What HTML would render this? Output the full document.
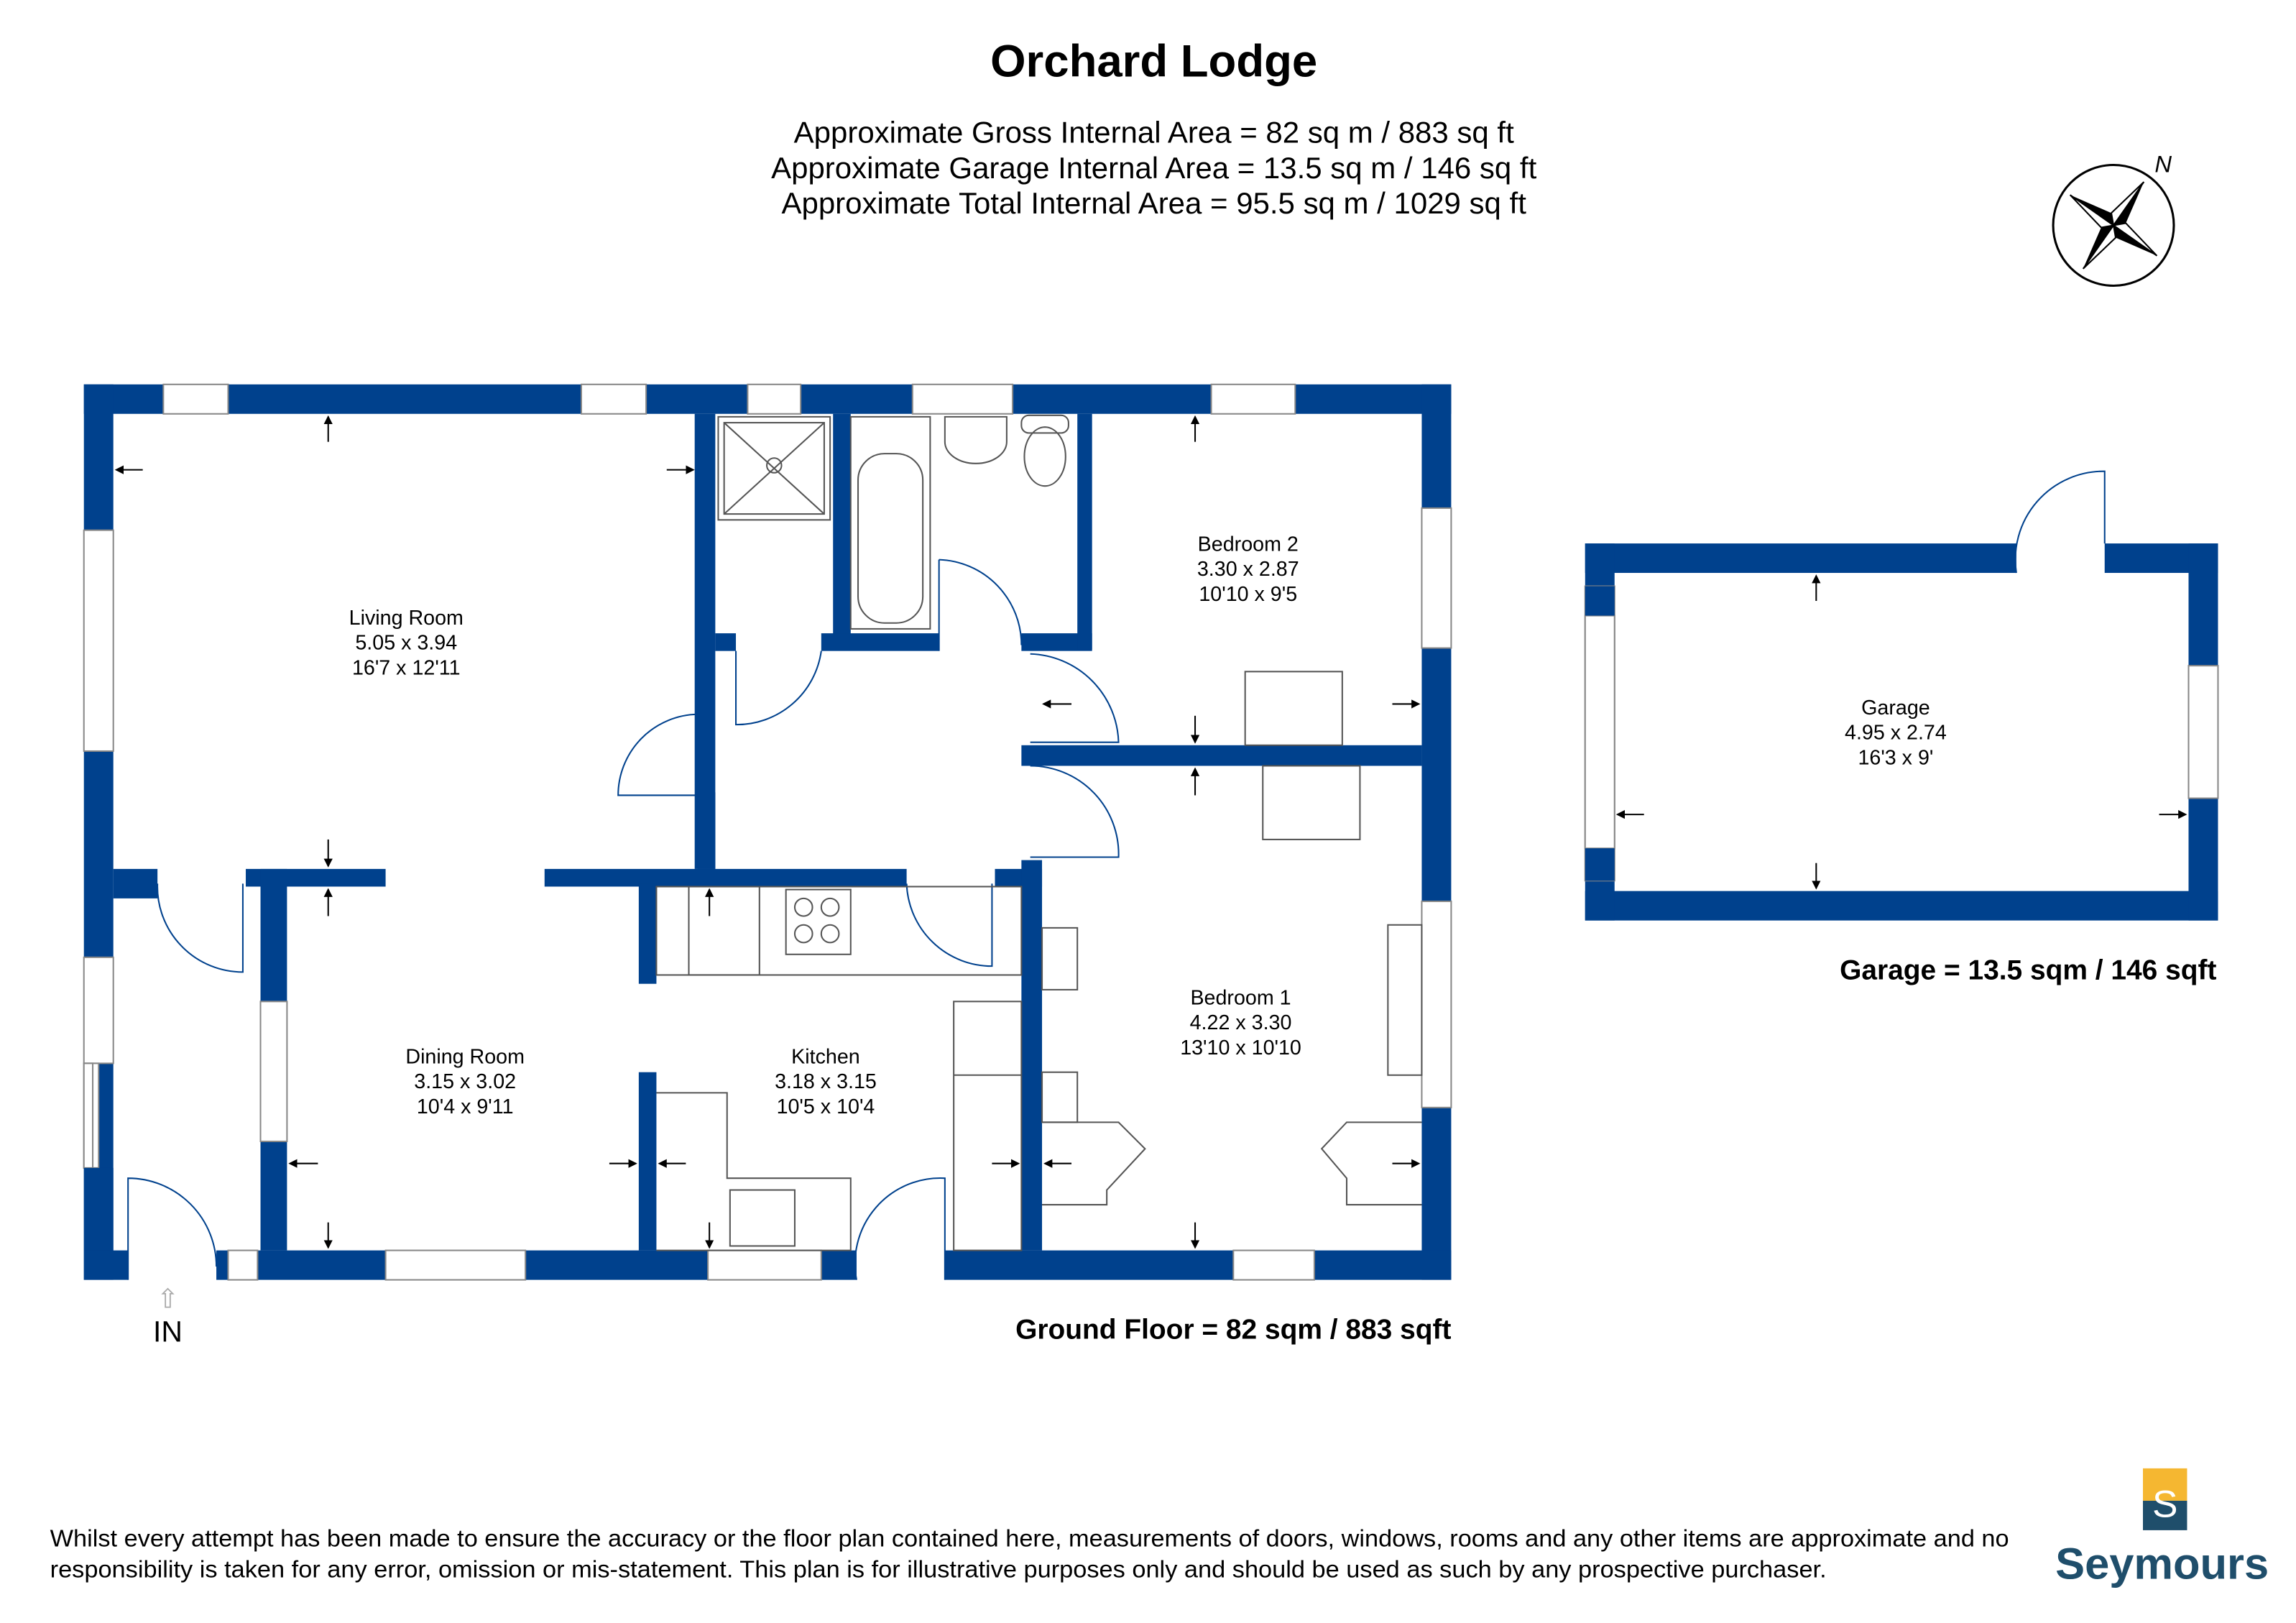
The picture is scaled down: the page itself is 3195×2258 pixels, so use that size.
<!DOCTYPE html>
<html><head><meta charset="utf-8"><style>
html,body{margin:0;padding:0;background:#fff}
svg{display:block}
text{font-family:"Liberation Sans",Arial,sans-serif;fill:#000}
</style></head><body>
<svg width="3195" height="2258" viewBox="0 0 1560 1102" preserveAspectRatio="none" xmlns="http://www.w3.org/2000/svg">
<defs><marker id="a" markerWidth="6" markerHeight="6" refX="5" refY="3" orient="auto" markerUnits="userSpaceOnUse"><path d="M0,0 L6,3 L0,6 Z" fill="#000"/></marker></defs>
<rect width="1560" height="1102" fill="#fff"/>
<text x="784" y="52" font-size="31" font-weight="bold" text-anchor="middle">Orchard Lodge</text>
<text x="784" y="97" font-size="20.5" text-anchor="middle">Approximate Gross Internal Area = 82 sq m / 883 sq ft</text>
<text x="784" y="121" font-size="20.5" text-anchor="middle">Approximate Garage Internal Area = 13.5 sq m / 146 sq ft</text>
<text x="784" y="145" font-size="20.5" text-anchor="middle">Approximate Total Internal Area = 95.5 sq m / 1029 sq ft</text>
<g transform="translate(1436,153)">
<circle r="41" fill="none" stroke="#000" stroke-width="1.5"/>
<g transform="rotate(35)">
<polygon points="0,-36 6,-6 0,0" fill="#000"/><polygon points="0,-36 -6,-6 0,0" fill="#fff" stroke="#000"/>
<polygon points="0,36 -6,6 0,0" fill="#000"/><polygon points="0,36 6,6 0,0" fill="#fff" stroke="#000"/>
<polygon points="36,0 6,6 0,0" fill="#000"/><polygon points="36,0 6,-6 0,0" fill="#fff" stroke="#000"/>
<polygon points="-36,0 -6,-6 0,0" fill="#000"/><polygon points="-36,0 -6,6 0,0" fill="#fff" stroke="#000"/>
</g>
<text x="28" y="-36" font-size="16" font-style="italic" font-family="Liberation Serif">N</text>
</g>
<g fill="#00418d">
<rect x="57" y="261" width="929" height="20"/>
<rect x="57" y="261" width="20" height="608"/>
<rect x="966" y="261" width="20" height="608"/>
<rect x="57" y="849" width="30" height="20"/>
<rect x="147" y="849" width="435" height="20"/>
<rect x="642" y="849" width="344" height="20"/>
<rect x="472" y="281" width="14" height="309"/>
<rect x="566" y="281" width="12" height="159"/>
<rect x="558" y="430" width="80" height="12"/>
<rect x="694" y="430" width="48" height="12"/>
<rect x="732" y="281" width="10" height="160"/>
<rect x="486" y="430" width="14" height="12"/>
<rect x="694" y="506" width="272" height="14"/>
<rect x="77" y="590" width="30" height="20"/>
<rect x="167" y="590" width="95" height="12"/>
<rect x="370" y="590" width="246" height="12"/>
<rect x="676" y="590" width="32" height="12"/>
<rect x="694" y="584" width="14" height="265"/>
<rect x="177" y="590" width="18" height="259"/>
<rect x="434" y="600" width="12" height="68"/>
<rect x="434" y="728" width="12" height="121"/>
<rect x="474" y="538" width="12" height="52"/>
<rect x="1077" y="369" width="293" height="20"/>
<rect x="1430" y="369" width="77" height="20"/>
<rect x="1077" y="605" width="430" height="20"/>
<rect x="1077" y="369" width="20" height="256"/>
<rect x="1487" y="369" width="20" height="256"/>
</g>
<g fill="#fff" stroke="#888" stroke-width="1">
<rect x="111" y="261" width="44" height="20"/><rect x="395" y="261" width="44" height="20"/>
<rect x="508" y="261" width="36" height="20"/><rect x="620" y="261" width="68" height="20"/>
<rect x="823" y="261" width="57" height="20"/>
<rect x="57" y="360" width="20" height="150"/><rect x="57" y="650" width="20" height="72"/>
<rect x="57" y="722" width="10" height="71"/>
<rect x="966" y="345" width="20" height="95"/><rect x="966" y="612" width="20" height="140"/>
<rect x="155" y="849" width="20" height="20"/><rect x="262" y="849" width="95" height="20"/>
<rect x="481" y="849" width="77" height="20"/><rect x="838" y="849" width="55" height="20"/>
<rect x="177" y="680" width="18" height="95"/>
<rect x="1077" y="398" width="20" height="200"/><rect x="1487" y="452" width="20" height="90"/>
</g>
<rect x="1077" y="418" width="20" height="158" fill="#fff" stroke="#888"/>
<rect x="1077" y="398" width="20" height="20" fill="#00418d"/>
<rect x="1077" y="576" width="20" height="22" fill="#00418d"/>
<rect x="57" y="722" width="6" height="71" fill="#fff" stroke="#888"/>
<rect x="57" y="793" width="20" height="56" fill="#00418d"/>
<g fill="none" stroke="#00418d" stroke-width="1">
<path d="M87 869 V800 A60 60 0 0 1 147 860"/>
<path d="M107 600 A58 58 0 0 0 165 660 V600"/>
<path d="M582 869 A58 58 0 0 1 642 800 V869"/>
<path d="M616 600 A58 58 0 0 0 674 656 V600"/>
<path d="M474 485 A55 55 0 0 0 420 540 H474"/>
<path d="M500 442 V492 A58 58 0 0 0 558 442"/>
<path d="M638 380 A58 58 0 0 1 694 438 M638 380 V442"/>
<path d="M700 520 A60 60 0 0 1 760 582 H700"/>
<path d="M700 444 A62 62 0 0 1 760 504 H700"/>
<path d="M1370 389 A60 60 0 0 1 1430 320 V369"/>
</g>
<g fill="none" stroke="#555" stroke-width="1">
<rect x="488" y="283" width="76" height="70"/><rect x="492" y="287" width="68" height="62"/>
<line x1="492" y1="287" x2="560" y2="349"/><line x1="560" y1="287" x2="492" y2="349"/>
<circle cx="526" cy="316" r="5"/>
<rect x="578" y="283" width="54" height="144"/><rect x="583" y="308" width="44" height="115" rx="18"/>
<path d="M642 283 H684 V300 A20 14 0 0 1 642 300 Z"/>
<rect x="694" y="282" width="32" height="12" rx="5"/><ellipse cx="710" cy="310" rx="14" ry="20"/>
<rect x="846" y="456" width="66" height="50"/><rect x="858" y="520" width="66" height="50"/>
<rect x="446" y="602" width="248" height="60"/><rect x="468" y="602" width="48" height="60"/>
<rect x="534" y="604" width="44" height="44"/>
<circle cx="546" cy="616" r="6"/><circle cx="564" cy="616" r="6"/><circle cx="546" cy="634" r="6"/><circle cx="564" cy="634" r="6"/>
<path d="M446 742 H494 V800 H578 V849 H446"/><rect x="496" y="808" width="44" height="38"/>
<rect x="648" y="680" width="46" height="169"/><line x1="648" y1="730" x2="694" y2="730"/>
<rect x="708" y="630" width="24" height="42"/><rect x="708" y="728" width="24" height="34"/>
<rect x="943" y="628" width="23" height="102"/>
<path d="M708 762 H760 L778 780 L752 808 V818 H708"/>
<path d="M966 762 H915 L898 780 L915 800 V818 H966"/>
</g>
<g stroke="#000" stroke-width="1" fill="none" marker-end="url(#a)">
<line x1="223" y1="300" x2="223" y2="283"/><line x1="97" y1="319" x2="79" y2="319"/>
<line x1="453" y1="319" x2="471" y2="319"/><line x1="223" y1="570" x2="223" y2="588"/>
<line x1="223" y1="622" x2="223" y2="604"/><line x1="812" y1="300" x2="812" y2="283"/>
<line x1="946" y1="478" x2="964" y2="478"/><line x1="812" y1="486" x2="812" y2="504"/>
<line x1="812" y1="540" x2="812" y2="522"/><line x1="728" y1="478" x2="709" y2="478"/>
<line x1="482" y1="622" x2="482" y2="604"/><line x1="216" y1="790" x2="197" y2="790"/>
<line x1="414" y1="790" x2="432" y2="790"/><line x1="466" y1="790" x2="448" y2="790"/>
<line x1="223" y1="830" x2="223" y2="847"/><line x1="482" y1="830" x2="482" y2="847"/>
<line x1="674" y1="790" x2="692" y2="790"/><line x1="728" y1="790" x2="710" y2="790"/>
<line x1="946" y1="790" x2="964" y2="790"/><line x1="812" y1="830" x2="812" y2="847"/>
<line x1="1234" y1="408" x2="1234" y2="391"/><line x1="1117" y1="553" x2="1099" y2="553"/>
<line x1="1467" y1="553" x2="1485" y2="553"/><line x1="1234" y1="586" x2="1234" y2="603"/>
</g>
<text x="114" y="888" font-size="18" text-anchor="middle" style="fill:#aaa">⇧</text>
<g font-size="14" text-anchor="middle">
<text x="276" y="424">Living Room</text><text x="276" y="441">5.05 x 3.94</text><text x="276" y="458">16'7 x 12'11</text>
<text x="848" y="374">Bedroom 2</text><text x="848" y="391">3.30 x 2.87</text><text x="848" y="408">10'10 x 9'5</text>
<text x="843" y="682">Bedroom 1</text><text x="843" y="699">4.22 x 3.30</text><text x="843" y="716">13'10 x 10'10</text>
<text x="316" y="722">Dining Room</text><text x="316" y="739">3.15 x 3.02</text><text x="316" y="756">10'4 x 9'11</text>
<text x="561" y="722">Kitchen</text><text x="561" y="739">3.18 x 3.15</text><text x="561" y="756">10'5 x 10'4</text>
<text x="1288" y="485">Garage</text><text x="1288" y="502">4.95 x 2.74</text><text x="1288" y="519">16'3 x 9'</text>
</g>
<text x="114" y="911" font-size="20" text-anchor="middle">IN</text>
<text x="986" y="909" font-size="19" font-weight="bold" text-anchor="end">Ground Floor = 82 sqm / 883 sqft</text>
<text x="1506" y="665" font-size="19" font-weight="bold" text-anchor="end">Garage = 13.5 sqm / 146 sqft</text>
<text x="34" y="1050" font-size="16.4" textLength="1331" lengthAdjust="spacingAndGlyphs">Whilst every attempt has been made to ensure the accuracy or the floor plan contained here, measurements of doors, windows, rooms and any other items are approximate and no</text>
<text x="34" y="1071" font-size="16.4" textLength="1207" lengthAdjust="spacingAndGlyphs">responsibility is taken for any error, omission or mis-statement. This plan is for illustrative purposes only and should be used as such by any prospective purchaser.</text>
<rect x="1456" y="997" width="30" height="22" fill="#f5b731"/>
<rect x="1456" y="1019" width="30" height="20" fill="#1f4e6b"/>
<text x="1471" y="1030" font-size="26" font-family="Liberation Serif" text-anchor="middle" style="fill:#fff">S</text>
<text x="1469" y="1072" font-size="30" font-weight="bold" text-anchor="middle" style="fill:#1f4e6b">Seymours</text>
</svg>
</body></html>
